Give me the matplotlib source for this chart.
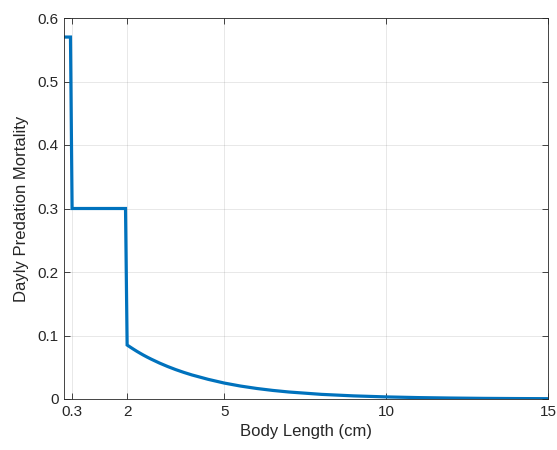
import matplotlib
matplotlib.use("Agg")
import matplotlib.pyplot as plt

# step part of the mortality curve
step_len = [0.05, 0.25, 0.30, 1.95, 2.0]
step_mort = [0.57, 0.57, 0.30, 0.30, 0.085]

# decaying tail beyond 2 cm (estimated values)
tail_len = [2.1, 2.2, 2.3, 2.4, 2.5, 2.625, 2.75, 2.875, 3.0, 3.25, 3.5,
            3.75, 4.0, 4.5, 5.0, 5.5, 6.0, 6.5, 7.0, 8.0, 9.0, 10.0, 11.0,
            12.0, 13.0, 14.0, 15.0]
tail_mort = [0.0816, 0.0783, 0.0751, 0.0721, 0.0692, 0.0658, 0.0626, 0.0596,
             0.0566, 0.0512, 0.0463, 0.0419, 0.0379, 0.0310, 0.0251, 0.0204,
             0.0166, 0.0135, 0.0110, 0.0073, 0.0049, 0.0033, 0.0022, 0.0015,
             0.0010, 0.0007, 0.0005]

x_ticks = [0.3, 2, 5, 10, 15]
x_tick_labels = ["0.3", "2", "5", "10", "15"]
y_ticks = [0, 0.1, 0.2, 0.3, 0.4, 0.5, 0.6]
y_tick_labels = ["0", "0.1", "0.2", "0.3", "0.4", "0.5", "0.6"]

plt.rcParams["font.family"] = ["Liberation Sans", "DejaVu Sans"]

fig = plt.figure(figsize=(5.57, 4.5), dpi=100)
ax = fig.add_axes([64 / 557, 51 / 450, 484 / 557, 381 / 450])

ax.plot(step_len + tail_len, step_mort + tail_mort,
        color=(0, 0.447, 0.741), linewidth=2.3, solid_joinstyle="miter")

ax.set_xlim(0.05, 15)
ax.set_ylim(0, 0.6)
ax.set_xticks(x_ticks)
ax.set_xticklabels(x_tick_labels)
ax.set_yticks(y_ticks)
ax.set_yticklabels(y_tick_labels)

dark = (0.15, 0.15, 0.15)
ax.grid(True, color=(0.15, 0.15, 0.15), alpha=0.12, linewidth=0.6)
ax.set_axisbelow(True)
for s in ax.spines.values():
    s.set_color(dark)
    s.set_linewidth(0.6)
ax.tick_params(direction="in", top=True, right=True, length=4, width=0.6,
               colors=dark, labelsize=11, pad=4)

ax.set_xlabel("Body Length (cm)", fontsize=12, color=dark, labelpad=4)
ax.set_ylabel("Dayly Predation Mortality", fontsize=12, color=dark, labelpad=6)

fig.savefig("out.png", dpi=100)
